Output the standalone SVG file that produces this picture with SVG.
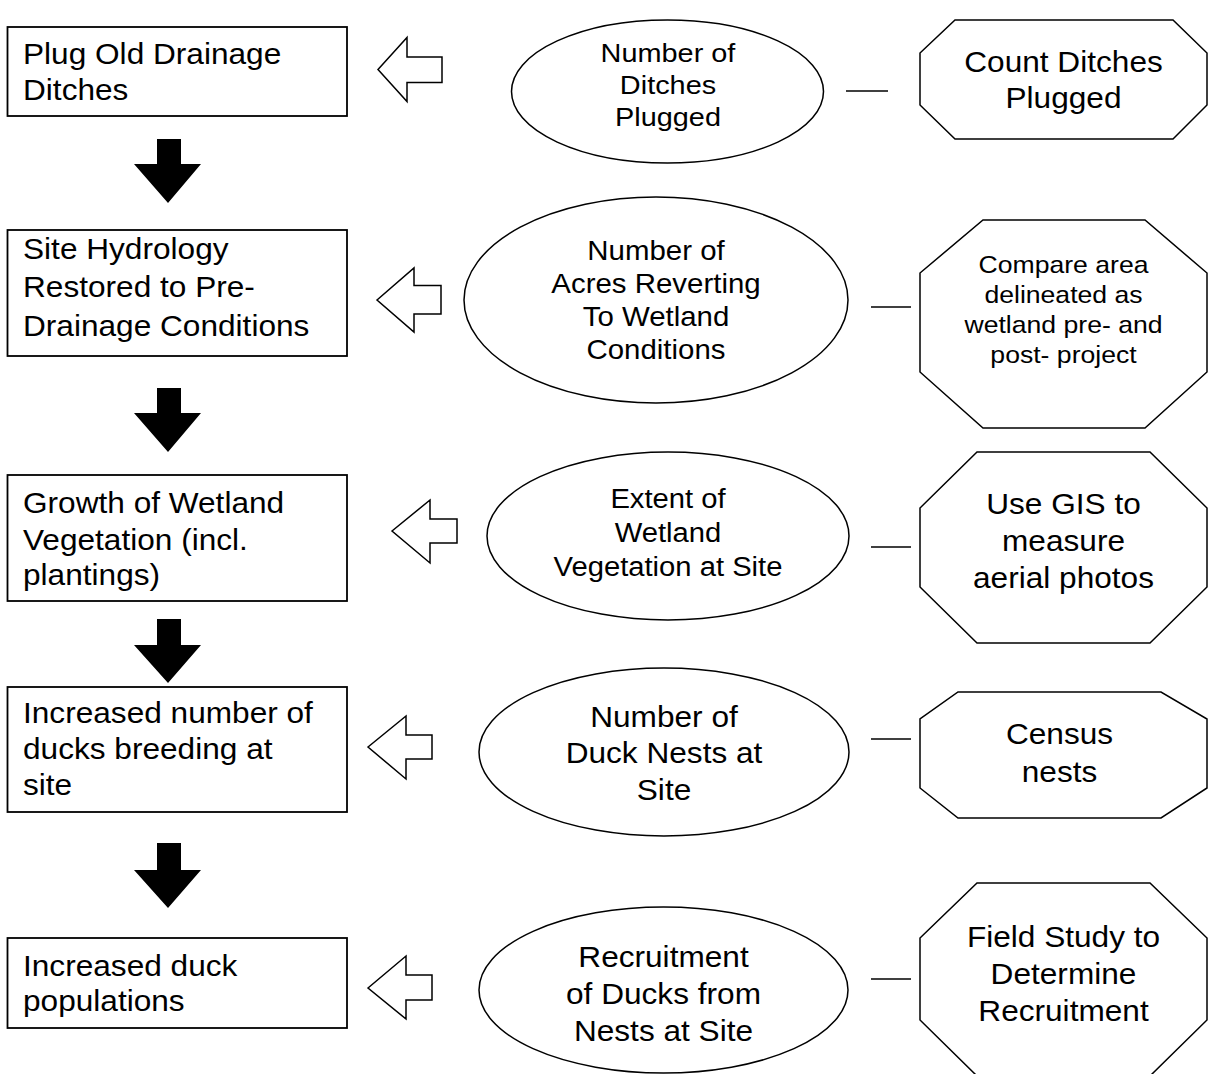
<svg xmlns="http://www.w3.org/2000/svg" width="1208" height="1074" viewBox="0 0 1208 1074">
  <style>
    .box { fill: #fff; stroke: #000; stroke-width: 1.8; }
    .oval { fill: #fff; stroke: #000; stroke-width: 1.5; }
    .oct { fill: #fff; stroke: #000; stroke-width: 1.5; }
    .link { stroke: #000; stroke-width: 1.5; fill: none; }
    .hollow { fill: #fff; stroke: #000; stroke-width: 1.5; stroke-linejoin: miter; }
    .solid { fill: #000; stroke: none; }
    text { font-family: "Liberation Sans", Arial, sans-serif; fill: #000; }
    .lt { font-size: 29px; text-anchor: start; }
    .ct { text-anchor: middle; }
  </style>
  <rect width="1208" height="1074" fill="#fff"/>

  <!-- outcome chain (left column) -->
  <g id="outcome-plug">
    <rect class="box" x="7.5" y="27" width="339.5" height="89"/>
    <text class="lt" transform="matrix(1.09 0 0 1 23 0)"><tspan x="0" y="64">Plug Old Drainage</tspan><tspan x="0" y="100">Ditches</tspan></text>
  </g>
  <g id="outcome-hydrology">
    <rect class="box" x="7.5" y="230" width="339.5" height="126"/>
    <text class="lt" transform="matrix(1.09 0 0 1 23 0)"><tspan x="0" y="259">Site Hydrology</tspan><tspan x="0" y="297">Restored to Pre-</tspan><tspan x="0" y="336">Drainage Conditions</tspan></text>
  </g>
  <g id="outcome-vegetation">
    <rect class="box" x="7.5" y="475" width="339.5" height="126"/>
    <text class="lt" transform="matrix(1.09 0 0 1 23 0)"><tspan x="0" y="513">Growth of Wetland</tspan><tspan x="0" y="550">Vegetation (incl.</tspan><tspan x="0" y="585">plantings)</tspan></text>
  </g>
  <g id="outcome-breeding">
    <rect class="box" x="7.5" y="687" width="339.5" height="125"/>
    <text class="lt" transform="matrix(1.09 0 0 1 23 0)"><tspan x="0" y="723">Increased number of</tspan><tspan x="0" y="759">ducks breeding at</tspan><tspan x="0" y="795">site</tspan></text>
  </g>
  <g id="outcome-population">
    <rect class="box" x="7.5" y="938" width="339.5" height="90"/>
    <text class="lt" transform="matrix(1.09 0 0 1 23 0)"><tspan x="0" y="976">Increased duck</tspan><tspan x="0" y="1011">populations</tspan></text>
  </g>

  <!-- indicators (ellipses) -->
  <g id="indicator-ditches">
    <ellipse class="oval" cx="667.5" cy="91.5" rx="156" ry="71.5"/>
    <text class="ct" style="font-size:26.5px" transform="matrix(1.09 0 0 1 668 0)"><tspan x="0" y="62">Number of</tspan><tspan x="0" y="94">Ditches</tspan><tspan x="0" y="126">Plugged</tspan></text>
  </g>
  <g id="indicator-acres">
    <ellipse class="oval" cx="656" cy="300" rx="192" ry="103"/>
    <text class="ct" style="font-size:27px" transform="matrix(1.09 0 0 1 656 0)"><tspan x="0" y="260">Number of</tspan><tspan x="0" y="293">Acres Reverting</tspan><tspan x="0" y="326">To Wetland</tspan><tspan x="0" y="359">Conditions</tspan></text>
  </g>
  <g id="indicator-vegetation">
    <ellipse class="oval" cx="668" cy="536" rx="181" ry="84"/>
    <text class="ct" style="font-size:26.8px" transform="matrix(1.09 0 0 1 668 0)"><tspan x="0" y="508">Extent of</tspan><tspan x="0" y="542">Wetland</tspan><tspan x="0" y="576">Vegetation at Site</tspan></text>
  </g>
  <g id="indicator-nests">
    <ellipse class="oval" cx="664" cy="752" rx="185" ry="84"/>
    <text class="ct" style="font-size:29px" transform="matrix(1.09 0 0 1 664 0)"><tspan x="0" y="727">Number of</tspan><tspan x="0" y="763">Duck Nests at</tspan><tspan x="0" y="800">Site</tspan></text>
  </g>
  <g id="indicator-recruitment">
    <ellipse class="oval" cx="663.5" cy="990" rx="184.5" ry="83"/>
    <text class="ct" style="font-size:29px" transform="matrix(1.09 0 0 1 663.5 0)"><tspan x="0" y="967">Recruitment</tspan><tspan x="0" y="1004">of Ducks from</tspan><tspan x="0" y="1041">Nests at Site</tspan></text>
  </g>

  <!-- methods (octagons) -->
  <g id="method-count">
    <polygon class="oct" points="955,20 1173,20 1207,53 1207,105 1173,139 955,139 920,105 920,53"/>
    <text class="ct" style="font-size:29px" transform="matrix(1.09 0 0 1 1063.5 0)"><tspan x="0" y="72">Count Ditches</tspan><tspan x="0" y="108">Plugged</tspan></text>
  </g>
  <g id="method-compare">
    <polygon class="oct" points="983,220 1145,220 1207,273 1207,372 1145,428 983,428 920,372 920,273"/>
    <text class="ct" style="font-size:24.4px" transform="matrix(1.09 0 0 1 1063.5 0)"><tspan x="0" y="273">Compare area</tspan><tspan x="0" y="303">delineated as</tspan><tspan x="0" y="333">wetland pre- and</tspan><tspan x="0" y="363">post- project</tspan></text>
  </g>
  <g id="method-gis">
    <polygon class="oct" points="977,452 1150,452 1207,508 1207,587 1150,643 977,643 920,587 920,508"/>
    <text class="ct" style="font-size:29px" transform="matrix(1.09 0 0 1 1063.5 0)"><tspan x="0" y="514">Use GIS to</tspan><tspan x="0" y="551">measure</tspan><tspan x="0" y="588">aerial photos</tspan></text>
  </g>
  <g id="method-census">
    <polygon class="oct" points="958,692 1161,692 1207,719 1207,788 1161,818 958,818 920,788 920,719"/>
    <text class="ct" style="font-size:29px" transform="matrix(1.09 0 0 1 1059.5 0)"><tspan x="0" y="744">Census</tspan><tspan x="0" y="782">nests</tspan></text>
  </g>
  <g id="method-field">
    <polygon class="oct" points="977,883 1150,883 1207,938 1207,1020 1150,1076 977,1076 920,1020 920,938"/>
    <text class="ct" style="font-size:29px" transform="matrix(1.09 0 0 1 1063.5 0)"><tspan x="0" y="947">Field Study to</tspan><tspan x="0" y="984">Determine</tspan><tspan x="0" y="1021">Recruitment</tspan></text>
  </g>

  <!-- connectors: solid down arrows, hollow left arrows, dash links -->
  <g id="connectors">
    <polygon class="solid" points="157,139 181,139 181,164 201,164 168,203 134,164 157,164"/>
    <polygon class="solid" points="157,388 181,388 181,413 201,413 168,452 134,413 157,413"/>
    <polygon class="solid" points="157,619 181,619 181,645 201,645 168,683 134,645 157,645"/>
    <polygon class="solid" points="157,843 181,843 181,870 201,870 168,908 134,870 157,870"/>

    <polygon class="hollow" points="378,69.5 407,37.5 407,57 442,57 442,82.5 407,82.5 407,101.5"/>
    <polygon class="hollow" points="377,300 414,268 414,285.5 441,285.5 441,314 414,314 414,332"/>
    <polygon class="hollow" points="392,531 430,500 430,519 457,519 457,543 430,543 430,563"/>
    <polygon class="hollow" points="368,747 406,716 406,735 432,735 432,759 406,759 406,779"/>
    <polygon class="hollow" points="368,988 406,956 406,975 432,975 432,1000 406,1000 406,1019"/>

    <line class="link" x1="846" y1="91" x2="888" y2="91"/>
    <line class="link" x1="871" y1="307" x2="911" y2="307"/>
    <line class="link" x1="871" y1="547" x2="911" y2="547"/>
    <line class="link" x1="871" y1="739" x2="911" y2="739"/>
    <line class="link" x1="871" y1="979" x2="911" y2="979"/>
  </g>
</svg>
